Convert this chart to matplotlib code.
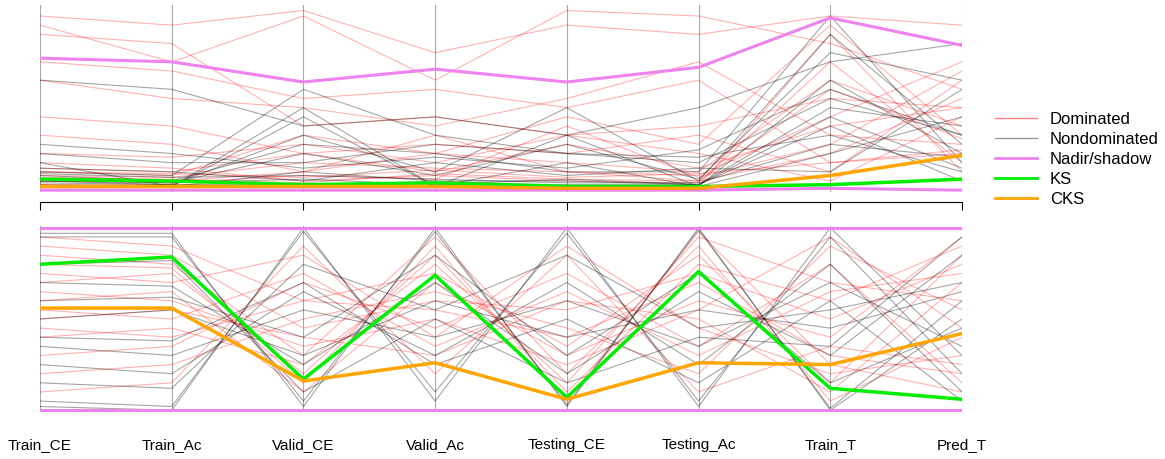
import matplotlib
matplotlib.use("Agg")
import matplotlib.pyplot as plt
import numpy as np

plt.rcParams['font.family'] = ['Liberation Sans', 'DejaVu Sans']

# axis names
variables = ['Train_CE', 'Train_Ac', 'Valid_CE', 'Valid_Ac', 'Testing_CE', 'Testing_Ac', 'Train_T', 'Pred_T']

# top panel (scaled objective values)
top_dominated = [
    [0.85, 0.80, 0.35, 0.40, 0.30, 0.35, 0.50, 0.45],
    [0.90, 0.70, 0.95, 0.60, 0.98, 0.95, 0.80, 0.55],
    [0.40, 0.35, 0.20, 0.25, 0.20, 0.30, 0.10, 0.60],
    [0.10, 0.08, 0.30, 0.20, 0.40, 0.25, 0.90, 0.30],
    [0.05, 0.05, 0.10, 0.30, 0.10, 0.05, 0.20, 0.50],
    [0.60, 0.50, 0.45, 0.35, 0.50, 0.70, 0.30, 0.25],
    [0.15, 0.12, 0.05, 0.08, 0.05, 0.04, 0.70, 0.15],
    [0.20, 0.18, 0.25, 0.15, 0.30, 0.20, 0.05, 0.40],
    [0.08, 0.07, 0.15, 0.12, 0.10, 0.08, 0.40, 0.70],
    [0.30, 0.25, 0.10, 0.20, 0.15, 0.10, 0.60, 0.35],
    [0.03, 0.03, 0.02, 0.05, 0.02, 0.02, 0.85, 0.10],
    [0.70, 0.65, 0.50, 0.55, 0.45, 0.60, 0.15, 0.20],
    [0.12, 0.10, 0.20, 0.10, 0.25, 0.12, 0.35, 0.45],
    [0.95, 0.90, 0.98, 0.75, 0.90, 0.85, 0.95, 0.90],
    [0.05, 0.04, 0.08, 0.06, 0.35, 0.07, 0.25, 0.65],
    [0.07, 0.06, 0.04, 0.09, 0.06, 0.05, 0.55, 0.28],
    [0.10, 0.09, 0.07, 0.11, 0.07, 0.09, 0.15, 0.22],
]
top_nondominated = [
    [0.10, 0.08, 0.55, 0.30, 0.20, 0.15, 0.50, 0.30],
    [0.05, 0.03, 0.30, 0.10, 0.45, 0.05, 0.85, 0.25],
    [0.15, 0.02, 0.45, 0.02, 0.30, 0.02, 0.60, 0.20],
    [0.08, 0.05, 0.25, 0.20, 0.10, 0.10, 0.95, 0.15],
    [0.03, 0.02, 0.10, 0.05, 0.05, 0.03, 0.45, 0.35],
    [0.20, 0.15, 0.15, 0.25, 0.20, 0.18, 0.30, 0.10],
    [0.60, 0.55, 0.35, 0.40, 0.30, 0.45, 0.70, 0.80],
    [0.02, 0.02, 0.40, 0.02, 0.15, 0.02, 0.20, 0.40],
    [0.12, 0.10, 0.05, 0.15, 0.08, 0.12, 0.10, 0.55],
    [0.06, 0.04, 0.20, 0.08, 0.25, 0.06, 0.75, 0.60],
    [0.04, 0.03, 0.03, 0.04, 0.03, 0.03, 0.35, 0.05],
    [0.25, 0.20, 0.12, 0.18, 0.12, 0.22, 0.55, 0.30],
    [0.09, 0.07, 0.08, 0.06, 0.04, 0.04, 0.25, 0.18],
    [0.05, 0.04, 0.06, 0.03, 0.06, 0.03, 0.40, 0.12],
]
top_nadir = [0.72, 0.70, 0.59, 0.66, 0.59, 0.67, 0.94, 0.79]
top_shadow = [0.0, 0.0, 0.0, 0.0, 0.0, 0.0, 0.01, 0.0]
top_ks = [0.06, 0.05, 0.03, 0.04, 0.02, 0.02, 0.03, 0.06]
top_cks = [0.02, 0.02, 0.02, 0.02, 0.01, 0.01, 0.08, 0.19]

# bottom panel (normalised per axis)
bot_dominated = [
    [0.95, 0.90, 0.60, 0.55, 0.40, 0.70, 0.30, 0.20],
    [0.70, 0.75, 0.20, 0.85, 0.10, 0.80, 0.60, 0.90],
    [0.50, 0.55, 0.40, 0.30, 0.60, 0.50, 0.10, 0.70],
    [0.85, 0.80, 0.30, 0.95, 0.20, 0.90, 0.05, 0.40],
    [0.30, 0.35, 0.70, 0.45, 0.75, 0.35, 0.80, 0.15],
    [0.60, 0.65, 0.10, 0.70, 0.30, 0.60, 0.40, 0.95],
    [0.20, 0.25, 0.50, 0.65, 0.45, 0.20, 0.90, 0.55],
    [0.75, 0.70, 0.85, 0.40, 0.90, 0.45, 0.20, 0.30],
    [0.40, 0.45, 0.25, 0.80, 0.15, 0.95, 0.70, 0.60],
    [0.90, 0.85, 0.45, 0.60, 0.55, 0.75, 0.50, 0.80],
    [0.10, 0.15, 0.90, 0.20, 0.85, 0.10, 0.35, 0.25],
    [0.65, 0.60, 0.35, 0.50, 0.25, 0.55, 0.95, 0.45],
    [0.45, 0.40, 0.60, 0.75, 0.35, 0.85, 0.15, 0.85],
    [0.80, 0.78, 0.15, 0.90, 0.05, 0.98, 0.25, 0.10],
    [0.55, 0.50, 0.75, 0.35, 0.65, 0.30, 0.65, 0.75],
]
bot_nondominated = [
    [0.97, 0.97, 0.02, 1.00, 0.02, 1.00, 0.00, 0.50],
    [0.95, 0.95, 0.05, 0.98, 0.03, 0.99, 0.01, 0.60],
    [0.02, 0.00, 1.00, 0.05, 1.00, 0.02, 1.00, 0.30],
    [0.05, 0.02, 0.98, 0.10, 0.97, 0.05, 0.95, 0.20],
    [0.50, 0.55, 0.30, 0.60, 0.40, 0.55, 0.45, 0.65],
    [0.35, 0.30, 0.55, 0.40, 0.60, 0.35, 0.70, 0.35],
    [0.70, 0.68, 0.25, 0.70, 0.20, 0.65, 0.30, 0.85],
    [0.25, 0.20, 0.65, 0.30, 0.70, 0.25, 0.80, 0.10],
    [0.60, 0.62, 0.40, 0.85, 0.30, 0.75, 0.15, 0.45],
    [0.15, 0.12, 0.80, 0.55, 0.85, 0.45, 0.55, 0.70],
    [0.80, 0.82, 0.10, 0.50, 0.15, 0.40, 0.35, 0.95],
    [0.40, 0.38, 0.70, 0.25, 0.50, 0.15, 0.60, 0.05],
]
bot_nadir = [1.0] * 8
bot_shadow = [0.0] * 8
bot_ks = [0.80, 0.84, 0.17, 0.74, 0.07, 0.76, 0.12, 0.06]
bot_cks = [0.56, 0.56, 0.16, 0.26, 0.06, 0.26, 0.25, 0.42]

x = np.arange(len(variables))
fig = plt.figure(figsize=(11.65, 4.59), dpi=100)
W, H = 1165, 459
ax_top = fig.add_axes([40 / W, 1 - 192 / H, 922 / W, 187 / H])
ax_bot = fig.add_axes([40 / W, 1 - 412 / H, 922 / W, 186 / H])


def draw_panel(ax, dom, nondom, nadir, shadow, ks, cks):
    for xi in x:
        ax.axvline(xi, color='#aaaaaa', lw=0.8, zorder=0)
    for row in dom:
        ax.plot(x, row, color='red', alpha=0.3, lw=0.8)
    for row in nondom:
        ax.plot(x, row, color='black', alpha=0.35, lw=0.8)
    ax.plot(x, nadir, color='violet', lw=2.2)
    ax.plot(x, shadow, color='violet', lw=2.2)
    ax.plot(x, ks, color='#00ee00', lw=2.5)
    ax.plot(x, cks, color='orange', lw=2.5)
    ax.set_xlim(0, len(variables) - 1)
    ax.set_ylim(-0.01, 1.01)
    ax.set_yticks([])
    for s in ax.spines.values():
        s.set_visible(False)


draw_panel(ax_top, top_dominated, top_nondominated, top_nadir, top_shadow, top_ks, top_cks)
draw_panel(ax_bot, bot_dominated, bot_nondominated, bot_nadir, bot_shadow, bot_ks, bot_cks)

# tick line under the top panel
ax_top.spines['bottom'].set_visible(True)
ax_top.spines['bottom'].set_position(('outward', 7))
ax_top.set_xticks(x)
ax_top.set_xticklabels([])
ax_top.tick_params(axis='x', direction='out', length=6)

ax_bot.set_xticks(x)
ax_bot.set_xticklabels(variables, fontsize=11)
ax_bot.tick_params(axis='x', length=0, pad=19)

handles = [
    plt.Line2D([], [], color='red', alpha=0.5, lw=1),
    plt.Line2D([], [], color='black', alpha=0.4, lw=1),
    plt.Line2D([], [], color='violet', lw=2),
    plt.Line2D([], [], color='#00ee00', lw=2),
    plt.Line2D([], [], color='orange', lw=2),
]
fig.legend(handles, ['Dominated', 'Nondominated', 'Nadir/shadow', 'KS', 'CKS'],
           loc='center left', bbox_to_anchor=(980 / W, 1 - 159 / H), frameon=False,
           fontsize=12, handlelength=2.5, labelspacing=0.3)

fig.savefig('out.png', dpi=100)
